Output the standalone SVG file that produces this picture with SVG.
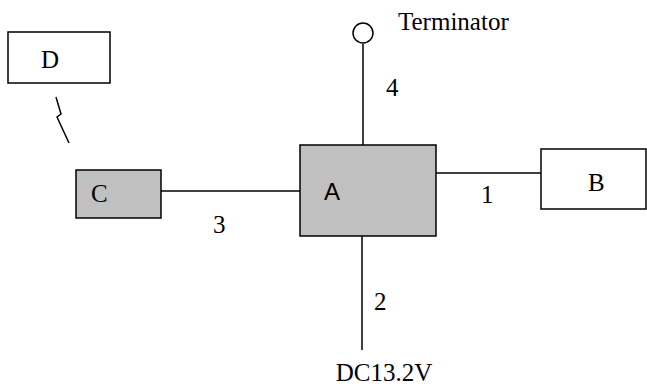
<svg xmlns="http://www.w3.org/2000/svg" width="647" height="388" viewBox="0 0 647 388">
<style>
.box{stroke:#000;stroke-width:1.5}
.w{fill:#fff}
.g{fill:#c0c0c0}
.ln{stroke:#000;stroke-width:1.5;fill:none}
.t{font-family:'Liberation Serif','DejaVu Serif',serif;font-size:25px;fill:#000}
.sans{font-family:'Liberation Sans',Arial,sans-serif;font-size:24px;fill:#000}
</style>
<rect width="647" height="388" fill="#fff"/>
<g id="connectors">
<line class="ln" x1="161" y1="191" x2="300" y2="191"/>
<line class="ln" x1="436" y1="173" x2="541" y2="173"/>
<line class="ln" x1="363" y1="44" x2="363" y2="145"/>
<line class="ln" x1="362" y1="236" x2="362" y2="350"/>
<polyline class="ln" points="56,97 61,114 57,117 69,143"/>
<text class="t" x="386" y="96">4</text>
<text class="t" x="481" y="203">1</text>
<text class="t" x="213" y="233">3</text>
<text class="t" x="374" y="310">2</text>
</g>
<g id="terminator">
<circle class="ln" cx="363" cy="33" r="10" fill="#fff"/>
<text class="t" x="398" y="30">Terminator</text>
</g>
<g id="dc">
<text class="t" x="384" y="381" text-anchor="middle">DC13.2V</text>
</g>
<g id="nodeD">
<rect class="box w" x="8" y="32" width="102" height="51"/>
<text class="t" x="41" y="68">D</text>
</g>
<g id="nodeC">
<rect class="box g" x="76" y="170" width="85" height="48"/>
<text class="t" x="91" y="202">C</text>
</g>
<g id="nodeA">
<rect class="box g" x="300" y="145" width="136" height="91"/>
<text class="sans" x="324" y="200">A</text>
</g>
<g id="nodeB">
<rect class="box w" x="541" y="149" width="105" height="60"/>
<text class="t" x="588" y="191">B</text>
</g>
</svg>
